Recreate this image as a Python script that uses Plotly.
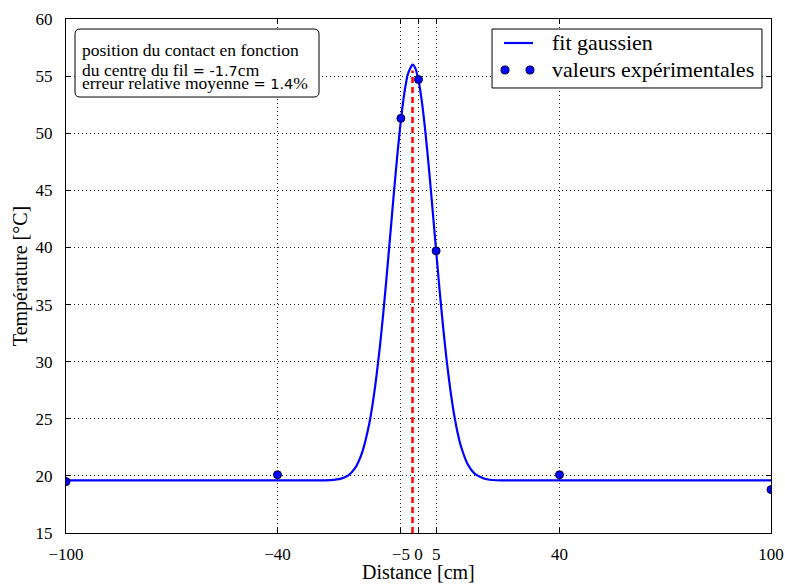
import plotly.graph_objects as go

# experimental values
exp_x = [-100, -40, -5, 0, 5, 40, 100]
exp_y = [19.5, 20.1, 51.3, 54.7, 39.7, 20.1, 18.8]

# gaussian fit curve
fit_x = [-100, -30, -25, -22, -20, -18, -16, -14, -13, -12, -11, -10, -9, -8, -7, -6, -5, -4, -3,
         -1.7, -1, 0, 1, 2, 3, 4, 5, 6, 7, 8, 9, 10, 11, 12, 14, 16, 19, 22, 27, 100]
fit_y = [19.6, 19.6, 19.63, 19.76, 20.03, 20.68, 22.04, 24.52, 26.32, 28.55, 31.19, 34.23, 37.59,
         41.13, 44.71, 48.10, 51.12, 53.54, 55.20, 56.0, 55.76, 54.64, 52.65, 49.97, 46.78, 43.29,
         39.70, 36.21, 32.98, 30.08, 27.61, 25.55, 23.91, 22.64, 21.00, 20.18, 19.73, 19.62, 19.6, 19.6]

# contact position
contact_x = [-1.7, -1.7]
contact_y = [15, 55.5]

x_ticks = [-100, -40, -5, 0, 5, 40, 100]
x_ticklabels = ["\u2212100", "\u221240", "\u22125", "0", "5", "40", "100"]
y_ticks = [15, 20, 25, 30, 35, 40, 45, 50, 55, 60]

legend_labels = ["fit gaussien", "valeurs expérimentales"]

info_title = "position du contact en fonction"
info_lines = [
    "du centre du fil <span style='font-family:DejaVu Sans;font-size:14.5px'>= -1.7</span>cm",
    "erreur relative moyenne <span style='font-family:DejaVu Sans;font-size:14.5px'>= 1.4</span>%",
]

FONT = "Liberation Serif, DejaVu Serif, serif"
BLUE = "blue"

fig = go.Figure()
fig.add_trace(go.Scatter(x=contact_x, y=contact_y, mode="lines",
                         line=dict(color="red", width=2.5, dash="6px,4px"), showlegend=False))
fig.add_trace(go.Scatter(x=fit_x, y=fit_y, mode="lines", name=legend_labels[0], showlegend=False,
                         line=dict(color=BLUE, width=2.2, shape="spline", smoothing=0.6)))
fig.add_trace(go.Scatter(x=exp_x, y=exp_y, mode="markers", name=legend_labels[1], showlegend=False,
                         marker=dict(color=BLUE, size=8, line=dict(color="#000033", width=1))))

axis_common = dict(showline=True, linecolor="black", linewidth=1.2, mirror="ticks",
                   ticks="inside", ticklen=5, tickcolor="black", automargin=False,
                   showgrid=True, gridcolor="#222222", griddash="1px,3px", gridwidth=1,
                   zeroline=False, tickfont=dict(family=FONT, size=17, color="black"))

fig.update_xaxes(range=[-100, 100], tickvals=x_ticks, ticktext=x_ticklabels,
                 ticklabelstandoff=5, **axis_common)
fig.update_yaxes(range=[15, 60], tickvals=y_ticks, ticklabelstandoff=9, **axis_common)

# axis titles
fig.add_annotation(xref="paper", yref="paper", x=0.5, y=-0.075, xanchor="center", yanchor="middle",
                   text="Distance [cm]", showarrow=False,
                   font=dict(family=FONT, size=20, color="black"))
fig.add_annotation(xref="paper", yref="paper", x=-0.065, y=0.5, xanchor="center", yanchor="middle",
                   text="Température [°C]", showarrow=False, textangle=-90,
                   font=dict(family=FONT, size=20, color="black"))

# info box (rounded)
x0, x1, y0, y1 = 0.0128, 0.3589, 0.8482, 0.9805
rx, ry = 0.0071, 0.0097
path = (f"M {x0+rx},{y1} L {x1-rx},{y1} Q {x1},{y1} {x1},{y1-ry} "
        f"L {x1},{y0+ry} Q {x1},{y0} {x1-rx},{y0} L {x0+rx},{y0} "
        f"Q {x0},{y0} {x0},{y0+ry} L {x0},{y1-ry} Q {x0},{y1} {x0+rx},{y1} Z")
fig.add_shape(type="path", path=path, xref="paper", yref="paper",
              line=dict(color="black", width=1), fillcolor="white", layer="above")
fig.add_annotation(xref="paper", yref="paper", x=0.0205, y=0.939, xanchor="left", yanchor="middle",
                   text=info_title, showarrow=False, align="left",
                   font=dict(family=FONT, size=17.5, color="black"))
# two tightly spaced lines (small base font sets the line pitch)
fig.add_annotation(xref="paper", yref="paper", x=0.0205, y=0.889, xanchor="left", yanchor="middle",
                   text="<br>".join(f"<span style='font-size:17.5px'>{t}</span>" for t in info_lines),
                   showarrow=False, align="left",
                   font=dict(family=FONT, size=10, color="black"))

# legend box (matplotlib style, two marker samples)
fig.add_shape(type="rect", xref="paper", yref="paper", x0=0.6043, x1=0.9872, y0=0.8658, y1=0.9805,
              line=dict(color="black", width=1), fillcolor="white", layer="above")
fig.add_shape(type="line", xref="paper", yref="paper", x0=0.6213, x1=0.6624, y0=0.9533, y1=0.9533,
              line=dict(color=BLUE, width=2.2), layer="above")
for cx0, cx1 in [(0.6170, 0.6284), (0.6525, 0.6638)]:
    fig.add_shape(type="circle", xref="paper", yref="paper", x0=cx0, x1=cx1, y0=0.8930, y1=0.9086,
                  line=dict(color="#000033", width=1), fillcolor=BLUE, layer="above")
for txt, yy in zip(legend_labels, [0.9543, 0.9018]):
    fig.add_annotation(xref="paper", yref="paper", x=0.686, y=yy, xanchor="left", yanchor="middle",
                       text=txt, showarrow=False, align="left",
                       font=dict(family=FONT, size=22, color="black"))

fig.update_layout(
    width=785, height=584, autosize=False,
    margin=dict(l=66, r=14, t=19, b=51),
    paper_bgcolor="white", plot_bgcolor="white",
    font=dict(family=FONT, color="black"),
    showlegend=False,
)

fig.write_html("out.html", config={"responsive": False, "displayModeBar": False},
               post_script="document.body.style.margin='0';document.body.style.overflow='hidden';")
